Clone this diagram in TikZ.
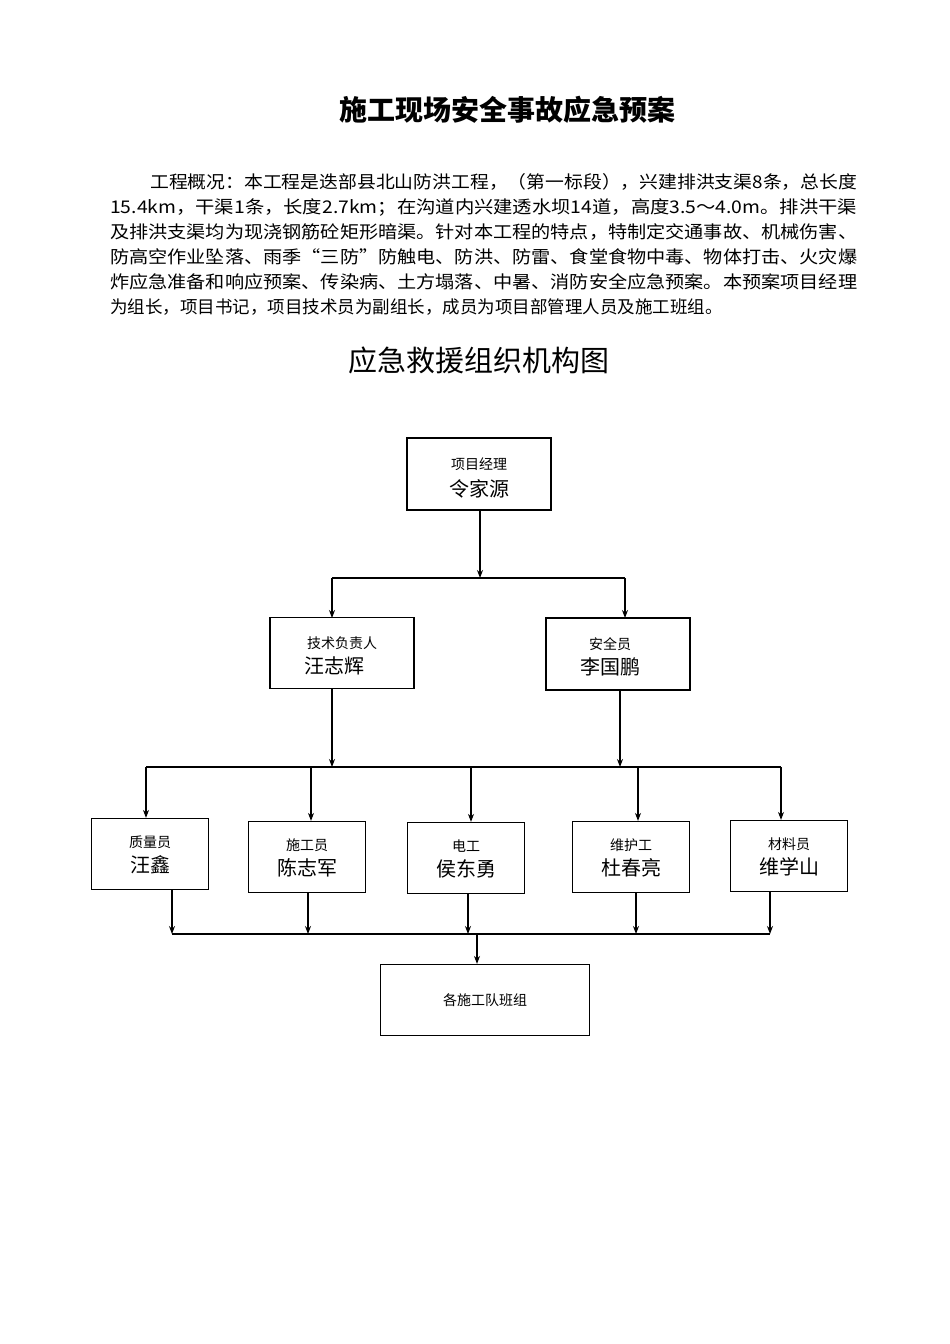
\documentclass[tikz,border=0pt]{standalone}
\usepackage{fontspec}
\usepackage{graphicx}
\setmainfont{Noto Sans CJK SC}
\usetikzlibrary{arrows.meta}
\begin{document}
\begin{tikzpicture}[x=1pt,y=-1pt,
  box/.style={draw,line width=1.2pt,inner sep=0pt,align=center},
  arr/.style={line width=1.2pt,-{Stealth[length=8pt,width=6pt]}},
  ln/.style={line width=1.2pt},
  para/.style={anchor=base west,inner sep=0pt,font=\fontsize{17.5}{18}\selectfont},
  sm/.style={font=\fontsize{14}{16}\selectfont},
  nm/.style={font=\fontsize{20}{22}\selectfont}]
\useasboundingbox (0,0) rectangle (950,1344);
\node[font=\fontsize{28}{30}\bfseries\selectfont] (title) at (507,110) {施工现场安全事故应急预案};
\node[para] (p1) at (150,188) {\resizebox{707pt}{\height}{工程概况：本工程是迭部县北山防洪工程，（第一标段），兴建排洪支渠8条，总长度}};
\node[para] (p2) at (110,213) {\resizebox{747pt}{\height}{15.4km，干渠1条，长度2.7km；在沟道内兴建透水坝14道，高度3.5～4.0m。排洪干渠}};
\node[para] (p3) at (110,238) {\resizebox{747pt}{\height}{及排洪支渠均为现浇钢筋砼矩形暗渠。针对本工程的特点，特制定交通事故、机械伤害、}};
\node[para] (p4) at (110,263) {\resizebox{747pt}{\height}{防高空作业坠落、雨季“三防”防触电、防洪、防雷、食堂食物中毒、物体打击、火灾爆}};
\node[para] (p5) at (110,288) {\resizebox{747pt}{\height}{炸应急准备和响应预案、传染病、土方塌落、中暑、消防安全应急预案。本预案项目经理}};
\node[para] (p6) at (110,313) {为组长，项目书记，项目技术员为副组长，成员为项目部管理人员及施工班组。};
\node[font=\fontsize{29}{30}\selectfont] (sub) at (479,360) {应急救援组织机构图};

\node[box,minimum width=144,minimum height=72] (pm) at (479,474) {};
\node[sm] at (479,464) {项目经理}; \node[nm] at (479,489) {令家源};
\node[box,minimum width=144,minimum height=71] (tech) at (342,653) {};
\node[sm] at (342,643) {技术负责人}; \node[nm] at (334,666) {汪志辉};
\node[box,minimum width=144,minimum height=72] (safe) at (618,654) {};
\node[sm] at (610,644) {安全员}; \node[nm] at (610,667) {李国鹏};

\foreach \n/\cx/\cy/\a/\b in {q/150/854/质量员/汪鑫, s/307/857/施工员/陈志军, e/466/858/电工/侯东勇, w/631/857/维护工/杜春亮, c/789/856/材料员/维学山}{
  \node[box,minimum width=117,minimum height=71] (\n) at (\cx,\cy) {};
  \node[sm] at (\cx,\cy-12) {\a}; \node[nm] at (\cx,\cy+11) {\b};
}
\node[box,minimum width=209,minimum height=71,sm] (team) at (485,1000) {各施工队班组};

\coordinate (j1) at (480,578);
\draw[arr] (pm.south -| j1) -- (j1);
\draw[ln] (332,578) -- (625,578);
\draw[arr] (332,578) -- (332,618);
\draw[arr] (625,578) -- (625,618);
\draw[arr] (332,689) -- (332,767);
\draw[arr] (620,690) -- (620,767);
\draw[ln] (146,767) -- (781,767);
\draw[arr] (146,767) -- (q.north -| 146,0);
\draw[arr] (311,767) -- (s.north -| 311,0);
\draw[arr] (471,767) -- (e.north -| 471,0);
\draw[arr] (638,767) -- (w.north -| 638,0);
\draw[arr] (781,767) -- (c.north -| 781,0);
\draw[arr] (q.south -| 172,0) -- (172,934);
\draw[arr] (s.south -| 308,0) -- (308,934);
\draw[arr] (e.south -| 468,0) -- (468,934);
\draw[arr] (w.south -| 636,0) -- (636,934);
\draw[arr] (c.south -| 770,0) -- (770,934);
\draw[ln] (172,934) -- (770,934);
\draw[arr] (477,934) -- (team.north -| 477,0);
\end{tikzpicture}
\end{document}
